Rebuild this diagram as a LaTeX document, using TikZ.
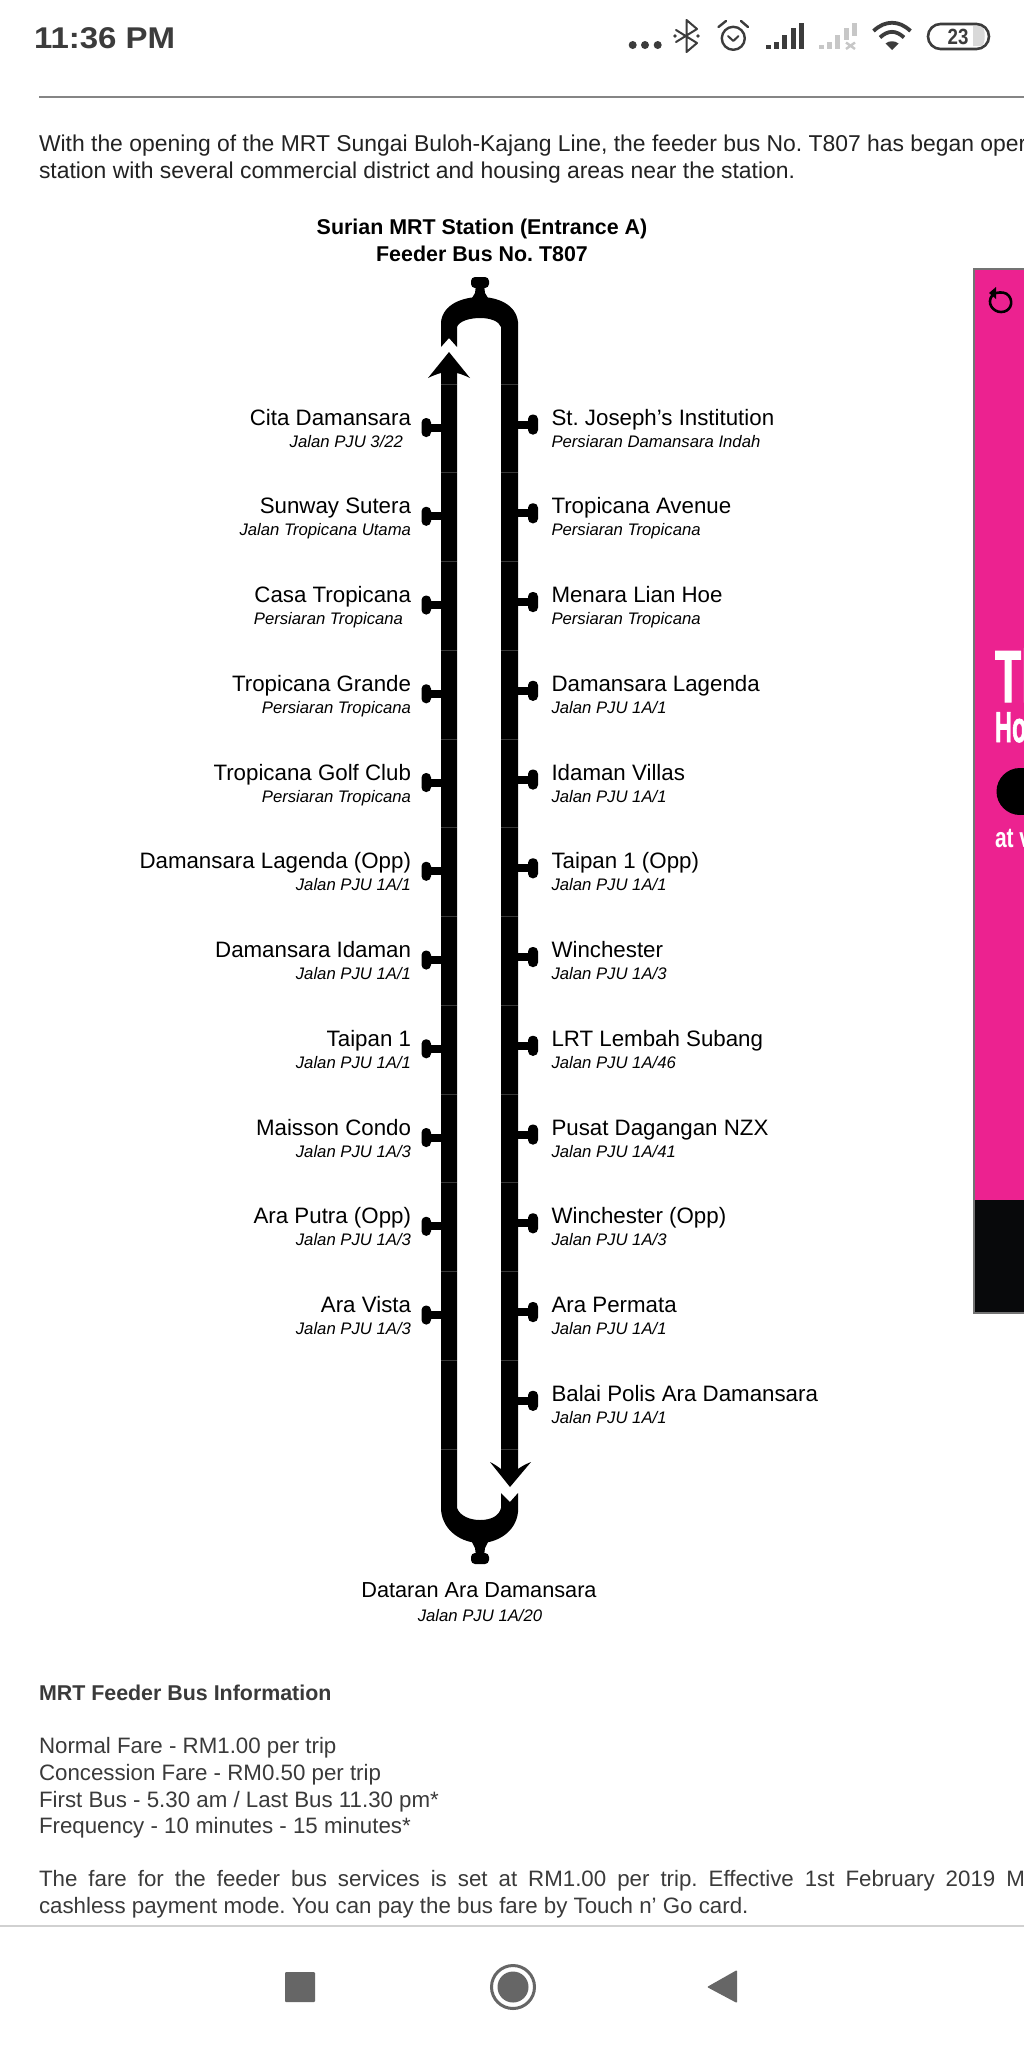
\documentclass[tikz,border=0pt]{standalone}
\usepackage{fontspec}
\setmainfont{Liberation Sans}
\usetikzlibrary{calc}
\definecolor{bodytxt}{HTML}{222222}
\definecolor{infotxt}{HTML}{3A3A3A}
\definecolor{statustxt}{HTML}{3C3C3C}
\definecolor{navgrey}{HTML}{666666}
\definecolor{pinkad}{HTML}{EC2290}
\definecolor{adblack}{HTML}{08090B}
\newcommand\fs[1]{\fontsize{#1}{#1}\selectfont\frenchspacing}
\tikzset{
  x=1pt,y=-1pt,
  txt/.style={inner sep=0,outer sep=0,text=black},
  lname/.style={txt,anchor=base east,font=\fs{22.3}},
  rname/.style={txt,anchor=base west,font=\fs{22.3}},
  lsub/.style={txt,anchor=base east,font=\fs{16.7}\itshape},
  rsub/.style={txt,anchor=base west,font=\fs{16.7}\itshape},
  para/.style={txt,anchor=base west,text=bodytxt,font=\fs{22.9}},
  info/.style={txt,anchor=base west,text=infotxt,font=\fs{22.3}},
  headl/.style={txt,anchor=base,font=\fs{21.4}\bfseries},
  icon/.style={draw=statustxt,line width=2.4pt,line cap=round,line join=round},
  knob/.style={fill=black},
}
\newcommand\lstop[4]{% index, name, sub, sub right edge
  \pgfmathsetmacro\yy{427.5+88.75*#1}
  \fill[knob] (429,\yy-4) rectangle (441,\yy+4);
  \fill[knob,rounded corners=4.5pt] (421.5,\yy-9.5) rectangle (431,\yy+9.5);
  \pgfmathsetmacro\yn{425+88.75*#1}
  \pgfmathsetmacro\ys{447+88.75*#1}
  \node[lname] (L#1) at (411,\yn) {#2};
  \node[lsub] (LS#1) at (#4,\ys) {#3};
}
\newcommand\rstop[3]{%
  \pgfmathsetmacro\yy{424.5+88.75*#1}
  \fill[knob] (518,\yy-4) rectangle (531,\yy+4);
  \fill[knob,rounded corners=4.5pt] (528,\yy-10) rectangle (538,\yy+10);
  \pgfmathsetmacro\yn{425+88.75*#1}
  \pgfmathsetmacro\ys{447+88.75*#1}
  \node[rname] (R#1) at (551.5,\yn) {#2};
  \node[rsub] (RS#1) at (551.5,\ys) {#3};
}
\begin{document}
\begin{tikzpicture}
\useasboundingbox (0,0) rectangle (1024,2048);
\clip (0,0) rectangle (1024,2048);
\fill[white] (0,0) rectangle (1024,2048);

% status bar
\node[txt,anchor=base west,text=statustxt,font=\fs{30}\bfseries,xscale=1.1] (clock) at (34,48) {11:36 PM};
\foreach \x in {632.7,645,657.7} \fill[statustxt] (\x,45) circle (4);
\draw[icon,line width=2pt] (676,30) -- (697,43) -- (686.5,52) -- (686.5,20) -- (697,29) -- (676,42);
\fill[statustxt] (675,36) circle (1.8) (698,36) circle (1.8);
\draw[icon] (733.3,38.3) circle (11.5);
\draw[icon,line width=2pt] (728,36) -- (733.3,41) -- (738.5,36);
\draw[icon] (718.5,27) -- (726,21);
\draw[icon] (748,27) -- (741,21);
\foreach \a/\t in {766/45,774/41.7,782/35,790.5/28.3,798.5/22.7}
  \fill[statustxt] (\a,\t) rectangle (\a+5,49.3);
\foreach \a/\t in {819/45,827/41.7,835/35}
  \fill[black!22] (\a,\t) rectangle (\a+5,49.3);
\fill[black!22] (844,28.3) rectangle (849,40);
\fill[black!22] (852,22.7) rectangle (857,36);
\draw[black!22,line width=2.4pt] (846,42.5) -- (855,49) (855,42.5) -- (846,49);
\begin{scope}[line width=3.8pt,draw=statustxt,line cap=butt]
  \draw (873.5,31) .. controls (885,20) and (899,20) .. (910.5,31);
  \draw (880,37.5) .. controls (888,30) and (896,30) .. (904,37.5);
\end{scope}
\fill[statustxt] (892,50) -- (885.5,43.5) .. controls (889,40.5) and (895,40.5) .. (898.5,43.5) -- cycle;
\fill[black!15] (973,26) -- (981,26) .. controls (986,26) and (986,46) .. (981,46) -- (973,46) -- cycle;
\draw[statustxt,line width=2.6pt,rounded corners=12.5pt] (928,24) rectangle (989,49);
\node[txt,text=statustxt,font=\fs{22}\bfseries,xscale=.85] (batt) at (958,37) {23};

% rule and intro
\draw[black!48,line width=2pt] (39,97) -- (1024,97);
\node[para] (intro1) at (39,151) {With the opening of the MRT Sungai Buloh-Kajang Line, the feeder bus No. T807 has began oper};
\node[para] (intro2) at (39,178) {station with several commercial district and housing areas near the station.};

% headings
\node[headl] (h1) at (482,234) {Surian MRT Station (Entrance A)};
\node[headl] (h2) at (482,261) {Feeder Bus No. T807};

% loop line: top cap with right side and its arrow
\fill[black] (441,347) -- (449,338) -- (457,347) -- (457,327)
  .. controls (459,321) and (470,318) .. (480,318)
  .. controls (490,318) and (499,321) .. (501,327)
  -- (501,1469) .. controls (497,1466) and (494,1464) .. (490,1462)
  -- (510,1487) -- (531,1462) .. controls (526,1464) and (522,1466) .. (518,1469)
  -- (518,322) .. controls (516,304) and (497,297) .. (480,297)
  .. controls (463,297) and (443,304) .. (441,322) -- cycle;
% left side with its arrow and bottom cap
\fill[black] (441,373) .. controls (437,374) and (432,376) .. (428,378)
  -- (449,352) -- (470,378) .. controls (466,376) and (461,374) .. (457,373)
  -- (457,1508) .. controls (460,1516) and (470,1520) .. (480,1520)
  .. controls (491,1520) and (499,1516) .. (501,1508)
  -- (501,1493) -- (510,1502) -- (518,1493)
  -- (518,1512) .. controls (516,1532) and (497,1543) .. (480,1543)
  .. controls (463,1543) and (443,1532) .. (441,1510) -- cycle;
% terminal knobs
\fill[knob] (476,285) -- (484,285) -- (485,293) -- (488,298) -- (472,298) -- (475,293) -- cycle;
\fill[knob,rounded corners=4pt] (471,277) rectangle (489,288);
\fill[knob] (472,1542) -- (488,1542) -- (485,1548) -- (484,1556) -- (476,1556) -- (475,1548) -- cycle;
\fill[knob,rounded corners=4pt] (471,1553) rectangle (489,1564);
% joins between the slices of the image
\foreach \i in {0,...,12} {
  \pgfmathsetmacro\yy{384+88.75*\i}
  \draw[black!78,line width=.7pt] (441,\yy) -- (457,\yy) (501,\yy) -- (518,\yy);
}

% stops, left side
\lstop{0}{Cita Damansara}{Jalan PJU 3/22}{403}
\lstop{1}{Sunway Sutera}{Jalan Tropicana Utama}{411}
\lstop{2}{Casa Tropicana}{Persiaran Tropicana}{403}
\lstop{3}{Tropicana Grande}{Persiaran Tropicana}{411}
\lstop{4}{Tropicana Golf Club}{Persiaran Tropicana}{411}
\lstop{5}{Damansara Lagenda (Opp)}{Jalan PJU 1A/1}{411}
\lstop{6}{Damansara Idaman}{Jalan PJU 1A/1}{411}
\lstop{7}{Taipan 1}{Jalan PJU 1A/1}{411}
\lstop{8}{Maisson Condo}{Jalan PJU 1A/3}{411}
\lstop{9}{Ara Putra (Opp)}{Jalan PJU 1A/3}{411}
\lstop{10}{Ara Vista}{Jalan PJU 1A/3}{411}
% stops, right side
\rstop{0}{St. Joseph's Institution}{Persiaran Damansara Indah}
\rstop{1}{Tropicana Avenue}{Persiaran Tropicana}
\rstop{2}{Menara Lian Hoe}{Persiaran Tropicana}
\rstop{3}{Damansara Lagenda}{Jalan PJU 1A/1}
\rstop{4}{Idaman Villas}{Jalan PJU 1A/1}
\rstop{5}{Taipan 1 (Opp)}{Jalan PJU 1A/1}
\rstop{6}{Winchester}{Jalan PJU 1A/3}
\rstop{7}{LRT Lembah Subang}{Jalan PJU 1A/46}
\rstop{8}{Pusat Dagangan NZX}{Jalan PJU 1A/41}
\rstop{9}{Winchester (Opp)}{Jalan PJU 1A/3}
\rstop{10}{Ara Permata}{Jalan PJU 1A/1}
\rstop{11}{Balai Polis Ara Damansara}{Jalan PJU 1A/1}
% terminus
\node[txt,anchor=base,font=\fs{21.7}] (term) at (479,1597) {Dataran Ara Damansara};
\node[txt,anchor=base,font=\fs{16.7}\itshape] (termsub) at (480,1621) {Jalan PJU 1A/20};

% advert at the right edge
\fill[pinkad] (973,269) rectangle (1024,1200);
\fill[adblack] (973,1200) rectangle (1024,1313);
\draw[black!55,line width=2pt] (1024,269) -- (973.5,269) -- (973.5,1313) -- (1024,1313);
\draw[black,line width=2.6pt] (992.5,295) .. controls (986,303) and (993,312) .. (1001,312)
   .. controls (1010,312) and (1014,303) .. (1009,296) .. controls (1006,292) and (1001,292) .. (996,293);
\fill[black] (996,287) -- (996,299) -- (989,293) -- cycle;
\node[txt,anchor=base west,text=white,font=\fs{74}\bfseries\addfontfeature{FakeBold=1.5},xscale=.58] (ad1) at (995,702) {Th};
\node[txt,anchor=base west,text=white,font=\fs{43}\bfseries\addfontfeature{FakeBold=2},xscale=.55] (ad2) at (995,742) {Ho};
\fill[black] (1020,791.5) circle (23.5);
\fill[black] (1020,768) rectangle (1024,815);
\node[txt,anchor=base west,text=white,font=\fs{28}\bfseries,xscale=.75] (ad3) at (995,847) {at v};

% information block
\node[txt,anchor=base west,text=infotxt,font=\fs{21.4}\bfseries] (i0) at (39,1700) {MRT Feeder Bus Information};
\node[info] (i1) at (39,1753) {Normal Fare - RM1.00 per trip};
\node[info] (i2) at (39,1780) {Concession Fare - RM0.50 per trip};
\node[info] (i3) at (39,1807) {First Bus - 5.30 am / Last Bus 11.30 pm*};
\node[info] (i4) at (39,1833) {Frequency - 10 minutes - 15 minutes*};
\node[info] (i5) at (39,1886) {\makebox[986pt][s]{The fare for the feeder bus services is set at RM1.00 per trip. Effective 1st February 2019 M}};
\node[info] (i6) at (39,1913) {cashless payment mode. You can pay the bus fare by Touch n’ Go card.};

% navigation bar
\fill[white] (0,1926) rectangle (1024,2048);
\draw[black!18,line width=2pt] (0,1926) -- (1024,1926);
\fill[navgrey,rounded corners=1pt] (285,1972) rectangle (315,2002);
\draw[navgrey,line width=3pt] (513,1987) circle (21.5);
\fill[navgrey] (513,1987) circle (15.5);
\fill[navgrey,rounded corners=1pt] (737,1970) -- (737,2003) -- (707,1987) -- cycle;
\end{tikzpicture}
\end{document}
